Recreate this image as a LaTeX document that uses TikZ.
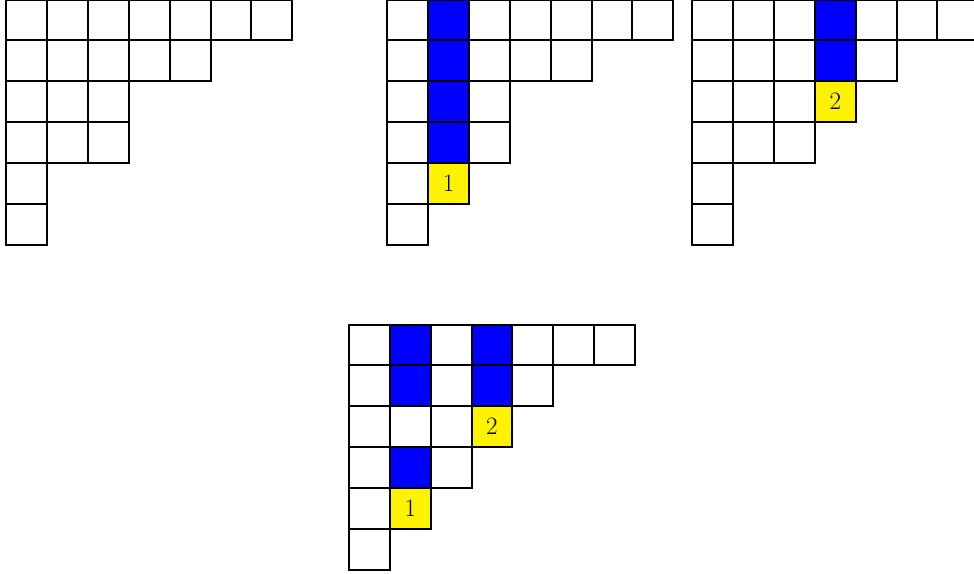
\documentclass[tikz,border=0pt]{standalone}
\begin{document}
\begin{tikzpicture}[x=1pt,y=-1pt,
  cellbox/.style={draw=black,line width=2pt,fill=white},
  bluebox/.style={draw=black,line width=2pt,fill=blue},
  yellowbox/.style={draw=black,line width=2pt,fill=yellow},
  numlabel/.style={font=\fontsize{25}{30}\selectfont,inner sep=0pt}]
\useasboundingbox (0,0) rectangle (974,573);
\def\cs{40.85}
% Diagram 1
\begin{scope}[shift={(6.3,-0.5)}]
  \foreach \r/\len in {1/7,2/5,3/3,4/3,5/1,6/1}
    \foreach \c in {1,...,\len}
      \draw[cellbox] ({(\c-1)*\cs},{(\r-1)*\cs}) rectangle ++(\cs,\cs);
\end{scope}
% Diagram 2
\begin{scope}[shift={(387.3,-0.5)}]
  \foreach \r/\len in {1/7,2/5,3/3,4/3,5/2,6/1}
    \foreach \c in {1,...,\len}
      \draw[cellbox] ({(\c-1)*\cs},{(\r-1)*\cs}) rectangle ++(\cs,\cs);
  \foreach \c/\r in {2/1,2/2,2/3,2/4}
    \draw[bluebox] ({(\c-1)*\cs},{(\r-1)*\cs}) rectangle ++(\cs,\cs);
  \draw[yellowbox] ({1*\cs},{4*\cs}) rectangle ++(\cs,\cs);
  \node[numlabel] (btwoone) at ({1.5*\cs},{4.5*\cs}) {1};
\end{scope}
% Diagram 3
\begin{scope}[shift={(692.3,-0.5)}]
  \foreach \r/\len in {1/7,2/5,3/4,4/3,5/1,6/1}
    \foreach \c in {1,...,\len}
      \draw[cellbox] ({(\c-1)*\cs},{(\r-1)*\cs}) rectangle ++(\cs,\cs);
  \foreach \c/\r in {4/1,4/2}
    \draw[bluebox] ({(\c-1)*\cs},{(\r-1)*\cs}) rectangle ++(\cs,\cs);
  \draw[yellowbox] ({3*\cs},{2*\cs}) rectangle ++(\cs,\cs);
  \node[numlabel] (cthreetwo) at ({3.5*\cs},{2.5*\cs}) {2};
\end{scope}
% Diagram 4
\begin{scope}[shift={(349,324.5)}]
  \foreach \r/\len in {1/7,2/5,3/4,4/3,5/2,6/1}
    \foreach \c in {1,...,\len}
      \draw[cellbox] ({(\c-1)*\cs},{(\r-1)*\cs}) rectangle ++(\cs,\cs);
  \foreach \c/\r in {2/1,2/2,4/1,4/2,2/4}
    \draw[bluebox] ({(\c-1)*\cs},{(\r-1)*\cs}) rectangle ++(\cs,\cs);
  \draw[yellowbox] ({3*\cs},{2*\cs}) rectangle ++(\cs,\cs);
  \node[numlabel] (dfourtwo) at ({3.5*\cs},{2.5*\cs}) {2};
  \draw[yellowbox] ({1*\cs},{4*\cs}) rectangle ++(\cs,\cs);
  \node[numlabel] (dfourone) at ({1.5*\cs},{4.5*\cs}) {1};
\end{scope}
\end{tikzpicture}
\end{document}
